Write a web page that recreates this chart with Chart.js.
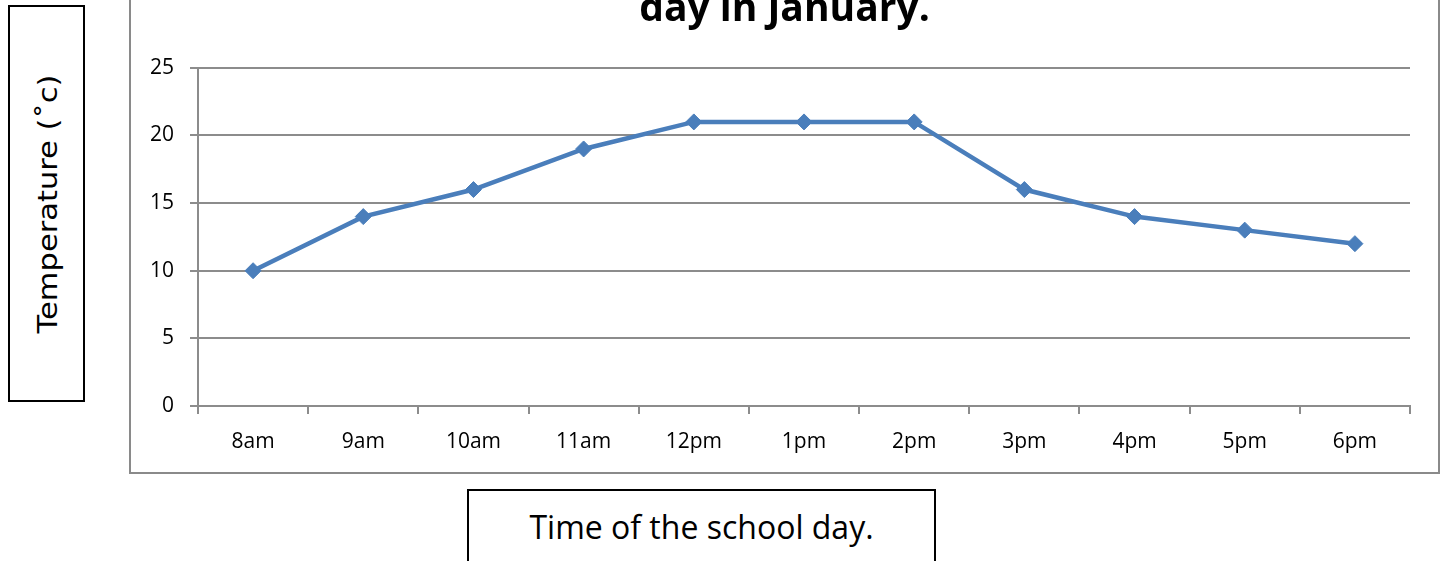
<!DOCTYPE html>
<html lang="en">
    <head>
        <meta charset="UTF-8">
        <title>Temperature during a school day in January</title>
        <script src="https://cdn.jsdelivr.net/npm/chart.js"></script>
        <style>
            body {
                margin: 0;
                background: #fff;
                width: 1445px;
                height: 561px;
                overflow: hidden;
                position: relative;
            }
            .chart-box {
                position: absolute;
                left: 129px;
                top: -38px;
                width: 1311px;
                height: 512px;
                border: 2px solid #8a8a8a;
                box-sizing: border-box;
            }
            .y-title {
                position: absolute;
                left: 8px;
                top: 5px;
                width: 77px;
                height: 397px;
                border: 2px solid #000;
                box-sizing: border-box;
            }
            .y-title span {
                position: absolute;
                left: 50%;
                top: 50%;
                transform: translate(-50%, -50%) rotate(-90deg) scale(1.13, 1);
                white-space: nowrap;
                font-family: "DejaVu Sans", sans-serif;
                font-size: 27px;
                color: #000;
            }
            .x-title {
                position: absolute;
                left: 467px;
                top: 489px;
                width: 469px;
                height: 90px;
                border: 2px solid #000;
                box-sizing: border-box;
                font-family: "Open Sans", sans-serif;
                font-size: 32px;
                line-height: 1;
                color: #000;
                text-align: center;
                padding-top: 20px;
            }
        </style>
    </head>
    <body>
        <div class="y-title"><span>Temperature (˚c)</span></div>
        <div class="chart-box"><canvas id="tempChart"></canvas></div>
        <div class="x-title">Time of the school day.</div>

        <script>
            // values
            const times = ['8am', '9am', '10am', '11am', '12pm', '1pm', '2pm', '3pm', '4pm', '5pm', '6pm'];
            const temps = [10, 14, 16, 19, 21, 21, 21, 16, 14, 13, 12];
            const yMin = 0, yMax = 25, yStep = 5;

            const gridGray = '#8c8c8c';
            const lineBlue = '#4a7ebb';

            new Chart(document.getElementById('tempChart'), {
                type: 'line',
                data: {
                    labels: times,
                    datasets: [{
                        data: temps,
                        borderColor: lineBlue,
                        backgroundColor: lineBlue,
                        borderWidth: 4.5,
                        tension: 0,
                        pointStyle: 'rectRot',
                        pointRadius: 8,
                        pointBorderWidth: 1
                    }]
                },
                options: {
                    responsive: true,
                    maintainAspectRatio: false,
                    animation: false,
                    layout: { padding: 0 },
                    plugins: {
                        legend: { display: false },
                        tooltip: { enabled: false },
                        title: {
                            display: true,
                            text: 'day in January.',
                            color: '#000',
                            font: { family: 'Open Sans', size: 39, weight: 'bold', lineHeight: 1.2 },
                            padding: { top: 22, bottom: 35 }
                        }
                    },
                    scales: {
                        x: {
                            offset: true,
                            grid: {
                                offset: true,
                                drawOnChartArea: false,
                                drawTicks: true,
                                tickLength: 8,
                                color: gridGray,
                                lineWidth: 2
                            },
                            border: { color: gridGray, width: 2 },
                            ticks: {
                                color: '#000',
                                font: { family: 'Open Sans', size: 21 },
                                padding: 15,
                                maxRotation: 0
                            },
                            afterFit: s => { s.height = 66; }
                        },
                        y: {
                            min: yMin,
                            max: yMax,
                            grid: {
                                color: gridGray,
                                lineWidth: 2,
                                drawTicks: true,
                                tickLength: 8
                            },
                            border: { color: gridGray, width: 2 },
                            ticks: {
                                stepSize: yStep,
                                color: '#000',
                                font: { family: 'Open Sans', size: 21 },
                                padding: 16
                            },
                            afterFit: s => { s.width = 67; }
                        },
                        // empty right-hand axis, only keeps the gap between plot and frame
                        gap: {
                            type: 'linear',
                            axis: 'y',
                            position: 'right',
                            grid: { display: false },
                            border: { display: false },
                            ticks: { display: false },
                            afterFit: s => { s.width = 28; }
                        }
                    }
                }
            });
        </script>
    </body>
</html>
